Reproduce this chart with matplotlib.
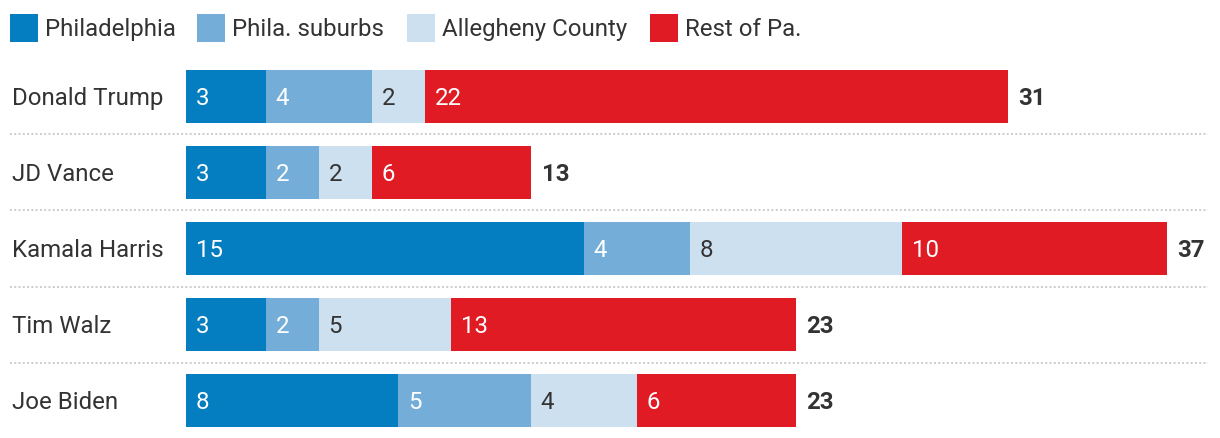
import matplotlib
matplotlib.use("Agg")
import matplotlib.pyplot as plt
from matplotlib.patches import Rectangle
import numpy as np

candidates = ["Donald Trump", "JD Vance", "Kamala Harris", "Tim Walz", "Joe Biden"]
series = ["Philadelphia", "Phila. suburbs", "Allegheny County", "Rest of Pa."]
philadelphia = [3, 3, 15, 3, 8]
phila_suburbs = [4, 2, 4, 2, 5]
allegheny = [2, 2, 8, 5, 4]
rest_of_pa = [22, 6, 10, 13, 6]

colors = ["#057dc1", "#74aed8", "#cde0ef", "#e01b24"]
text_colors = ["white", "white", "#333333", "white"]

W, H = 1220, 438
fig = plt.figure(figsize=(W / 100, H / 100), dpi=100)
ax = fig.add_axes([0, 0, 1, 1])
ax.set_axis_off()

px_per_unit = 26.5
x0_px = 186
row_px = 76
first_center_px = 96.5
ax.set_xlim(-x0_px / px_per_unit, (W - x0_px) / px_per_unit)
ax.set_ylim((H - first_center_px) / row_px, -first_center_px / row_px)

FONT = "Roboto"
FS = 17.3
DARK = "#333333"
dy = 1.8 / row_px  # nudge text down slightly

data = np.array([philadelphia, phila_suburbs, allegheny, rest_of_pa])
y = np.arange(len(candidates))
left = np.zeros(len(candidates))
bar_h = 53 / row_px
for k in range(len(series)):
    ax.barh(y, data[k], left=left, height=bar_h, color=colors[k], linewidth=0)
    for i in range(len(candidates)):
        ax.text(left[i] + 10 / px_per_unit, y[i] + dy, str(data[k][i]), color=text_colors[k],
                fontsize=FS, family=FONT, va="center", ha="left")
    left += data[k]

totals = data.sum(axis=0)
for i in range(len(candidates)):
    ax.text(totals[i] + 11 / px_per_unit, y[i] + dy, str(totals[i]), color=DARK,
            fontsize=FS, family=FONT, fontweight="bold", va="center", ha="left")
    ax.text((12 - x0_px) / px_per_unit, y[i] + dy, candidates[i], color=DARK,
            fontsize=FS, family=FONT, va="center", ha="left")

# dotted separators
xs = (10 - x0_px) / px_per_unit
xe = (1208 - x0_px) / px_per_unit
for i in range(len(candidates) - 1):
    ax.plot([xs, xe], [i + 0.5, i + 0.5], color="#cccccc", linestyle=(0, (1, 1.2)),
            linewidth=1.4)

# legend
sq_x = [10, 197, 407, 650]
for k, name in enumerate(series):
    fig.patches.append(Rectangle((sq_x[k] / W, 1 - 42 / H), 28 / W, 28 / H,
                                 transform=fig.transFigure, color=colors[k], linewidth=0))
    fig.text((sq_x[k] + 35) / W, 1 - 29.5 / H, name, color=DARK, fontsize=FS,
             family=FONT, va="center", ha="left")

fig.savefig("out.png", dpi=100)
